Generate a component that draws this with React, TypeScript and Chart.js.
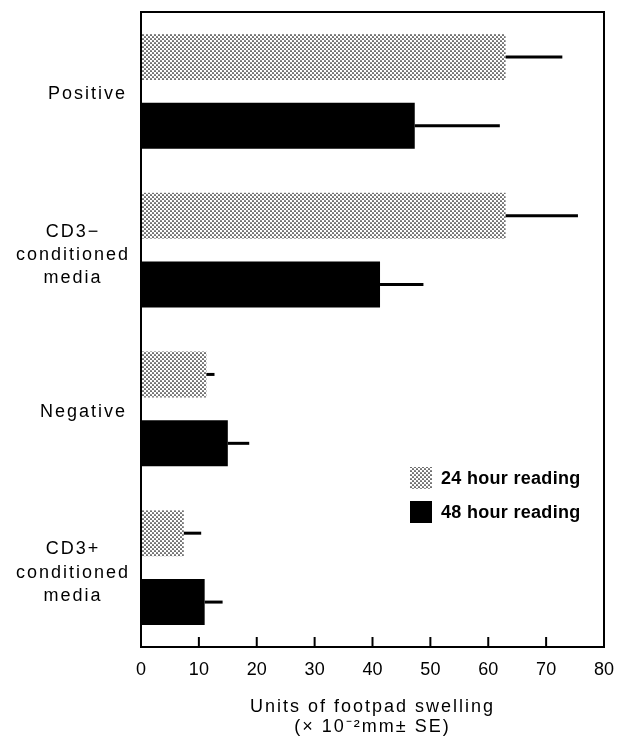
import React, { useEffect, useRef } from "react";
import { Chart, registerables } from "chart.js";

Chart.register(...registerables);

// ---- data ----
const categories: string[][] = [
  ["Positive"],
  ["CD3−", "conditioned", "media"],
  ["Negative"],
  ["CD3+", "conditioned", "media"],
];
const hour24 = [63, 63, 11.3, 7.4];
const hour48 = [47.3, 41.3, 15, 11];
const err24 = [9.8, 12.5, 1.4, 3];
const err48 = [14.7, 7.5, 3.7, 3.1];
const seriesNames = ["24 hour reading", "48 hour reading"];
const xTickValues = [0, 10, 20, 30, 40, 50, 60, 70, 80];
const axisTitle = ["Units of footpad swelling", "(× 10⁻²mm± SE)"];

const FONT = "'Liberation Sans', Arial, Helvetica, sans-serif";

function makeStipple(): CanvasPattern | string {
  const tile = document.createElement("canvas");
  tile.width = 4;
  tile.height = 4;
  const g = tile.getContext("2d");
  if (!g) return "#aaa";
  g.fillStyle = "#fff";
  g.fillRect(0, 0, 4, 4);
  g.fillStyle = "#000";
  g.beginPath();
  g.arc(1, 1, 0.85, 0, Math.PI * 2);
  g.fill();
  g.beginPath();
  g.arc(3, 3, 0.85, 0, Math.PI * 2);
  g.fill();
  return g.createPattern(tile, "repeat") || "#aaa";
}

const zeroPad = (s: any) => {
  s.paddingTop = 0;
  s.paddingBottom = 0;
  s.paddingLeft = 0;
  s.paddingRight = 0;
};

export default function App() {
  const ref = useRef<HTMLCanvasElement | null>(null);

  useEffect(() => {
    const canvas = ref.current;
    if (!canvas) return;
    const stipple = makeStipple();
    const errs = [err24, err48];

    const decor = {
      id: "decor",
      beforeDraw(chart: any) {
        chart.ctx.letterSpacing = "2px";
      },
      afterDatasetsDraw(chart: any) {
        const ctx = chart.ctx;
        const xs = chart.scales.x;
        const { left, right, top, bottom } = chart.chartArea;
        ctx.save();
        ctx.letterSpacing = "0px";
        // error bars (one-sided, to the right)
        ctx.strokeStyle = "#000";
        ctx.lineWidth = 3;
        chart.data.datasets.forEach((ds: any, di: number) => {
          const meta = chart.getDatasetMeta(di);
          meta.data.forEach((el: any, i: number) => {
            const v = ds.data[i];
            const x1 = xs.getPixelForValue(v + errs[di][i]);
            ctx.beginPath();
            ctx.moveTo(el.x, el.y);
            ctx.lineTo(x1, el.y);
            ctx.stroke();
          });
        });
        // frame
        ctx.lineWidth = 2;
        ctx.strokeRect(left, top, right - left, bottom - top);
        // inner ticks
        xTickValues.forEach((v) => {
          if (v === xs.min || v === xs.max) return;
          const px = xs.getPixelForValue(v);
          ctx.beginPath();
          ctx.moveTo(px, bottom);
          ctx.lineTo(px, bottom - 10);
          ctx.stroke();
        });
        ctx.restore();
        chart.ctx.letterSpacing = "0px";
      },
      afterDraw(chart: any) {
        const ctx = chart.ctx;
        const { left, top } = chart.chartArea;
        const lx = left + 269;
        const sw = 22;
        const rows = [top + 455, top + 489];
        ctx.save();
        ctx.letterSpacing = "0.3px";
        ctx.font = `bold 18px ${FONT}`;
        ctx.textBaseline = "middle";
        ctx.textAlign = "left";
        chart.data.datasets.forEach((ds: any, i: number) => {
          ctx.fillStyle = ds.backgroundColor;
          ctx.fillRect(lx, rows[i], sw, sw);
          ctx.fillStyle = "#000";
          ctx.fillText(ds.label, lx + sw + 9, rows[i] + sw / 2 + 1);
        });
        ctx.restore();
        ctx.letterSpacing = "0px";
      },
    };

    const chart = new Chart(canvas, {
      type: "bar",
      data: {
        labels: categories,
        datasets: [
          {
            label: seriesNames[0],
            data: hour24,
            backgroundColor: stipple as any,
            borderWidth: 0,
            categoryPercentage: 0.868,
            barPercentage: 0.667,
          },
          {
            label: seriesNames[1],
            data: hour48,
            backgroundColor: "#000",
            borderWidth: 0,
            categoryPercentage: 0.868,
            barPercentage: 0.667,
          },
        ],
      },
      options: {
        indexAxis: "y",
        responsive: false,
        animation: false,
        devicePixelRatio: 1,
        layout: { padding: { left: 0, right: 15, top: 12, bottom: 0 } },
        plugins: {
          legend: { display: false },
          tooltip: { enabled: false },
        },
        scales: {
          x: {
            type: "linear",
            position: "bottom",
            min: 0,
            max: 80,
            afterBuildTicks: (s: any) => {
              s.ticks = xTickValues.map((v) => ({ value: v }));
            },
            grid: { display: false, drawTicks: false, z: -1 },
            border: { display: false },
            ticks: {
              color: "#000",
              font: { family: FONT, size: 18 },
              padding: 12,
              z: 1,
              maxRotation: 0,
              autoSkip: false,
            },
            title: {
              display: true,
              text: axisTitle,
              color: "#000",
              font: { family: FONT, size: 18, lineHeight: 1.12 },
              padding: { top: 0, bottom: -1 },
            },
            afterFit: (s: any) => {
              s.height = 89;
              zeroPad(s);
            },
          },
          // outer axis: single-line category labels, right aligned
          y: {
            type: "category",
            position: "left",
            weight: 1,
            offset: true,
            grid: { display: false, drawTicks: false },
            border: { display: false },
            ticks: {
              color: "#000",
              font: { family: FONT, size: 18, lineHeight: 1.3 },
              padding: 14,
              crossAlign: "near",
              labelOffset: 3,
              autoSkip: false,
              callback: (_v: any, i: number) =>
                categories[i].length === 1 ? categories[i] : "",
            },
            afterFit: (s: any) => {
              s.width = 141;
              zeroPad(s);
            },
          },
          // inner zero-width axis: multi-line labels, centred lines
          y2: {
            type: "category",
            position: "left",
            weight: 0,
            offset: true,
            grid: { display: false, drawTicks: false },
            border: { display: false },
            ticks: {
              color: "#000",
              font: { family: FONT, size: 18, lineHeight: 1.3 },
              mirror: true,
              padding: -114,
              crossAlign: "center",
              labelOffset: 5,
              autoSkip: false,
              callback: (_v: any, i: number) =>
                categories[i].length > 1 ? categories[i] : "",
            },
            afterFit: (s: any) => {
              s.width = 0;
              zeroPad(s);
            },
          },
        },
      } as any,
      plugins: [decor],
    });

    return () => chart.destroy();
  }, []);

  return (
    <canvas
      ref={ref}
      width={619}
      height={736}
      style={{ position: "fixed", left: 0, top: 0, display: "block" }}
    />
  );
}
